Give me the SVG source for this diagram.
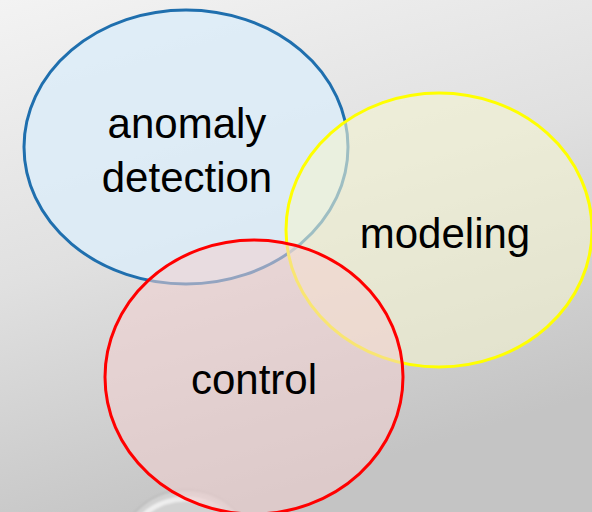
<svg xmlns="http://www.w3.org/2000/svg" width="592" height="512" viewBox="0 0 592 512">
  <defs>
    <linearGradient id="bg" x1="0" y1="0" x2="0.35" y2="1">
      <stop offset="0" stop-color="#f3f3f3"/>
      <stop offset="0.5" stop-color="#e0e0e0"/>
      <stop offset="1" stop-color="#c4c4c4"/>
    </linearGradient>
    <linearGradient id="knob" x1="0.2" y1="0" x2="0.8" y2="1">
      <stop offset="0" stop-color="#f4f4f4"/>
      <stop offset="0.6" stop-color="#c8c8c8"/>
    </linearGradient>
    <filter id="soft" x="-20%" y="-20%" width="140%" height="140%">
      <feGaussianBlur stdDeviation="1.2"/>
    </filter>
  </defs>
  <style>
    .lbl { font-family: "Liberation Sans", Arial, sans-serif; font-size: 42px; fill: #000; text-anchor: middle; }
    .set { stroke-width: 3; }
  </style>
  <rect x="0" y="0" width="592" height="512" fill="url(#bg)"/>
  <!-- glossy knob partly hidden at the bottom edge -->
  <g filter="url(#soft)">
    <circle cx="186" cy="560" r="70" fill="#d2d2d2" stroke="#bdbdbd" stroke-width="2"/>
    <circle cx="186" cy="563" r="64" fill="none" stroke="url(#knob)" stroke-width="5"/>
  </g>
  <g id="anomaly-detection">
    <ellipse class="set" cx="186" cy="147" rx="162" ry="137" fill="#dcecf8" fill-opacity="0.85" stroke="#1f6fae"/>
    <text class="lbl" x="187" y="138">anomaly</text>
    <text class="lbl" x="187" y="192">detection</text>
  </g>
  <g id="modeling">
    <ellipse class="set" cx="439" cy="230" rx="153" ry="137" fill="#f3f3d0" fill-opacity="0.6" stroke="#ffff00"/>
    <text class="lbl" x="445" y="248">modeling</text>
  </g>
  <g id="control">
    <ellipse class="set" cx="254" cy="377" rx="149" ry="137" fill="#f2d0d0" fill-opacity="0.55" stroke="#ff0000"/>
    <text class="lbl" x="254" y="394">control</text>
  </g>
</svg>
